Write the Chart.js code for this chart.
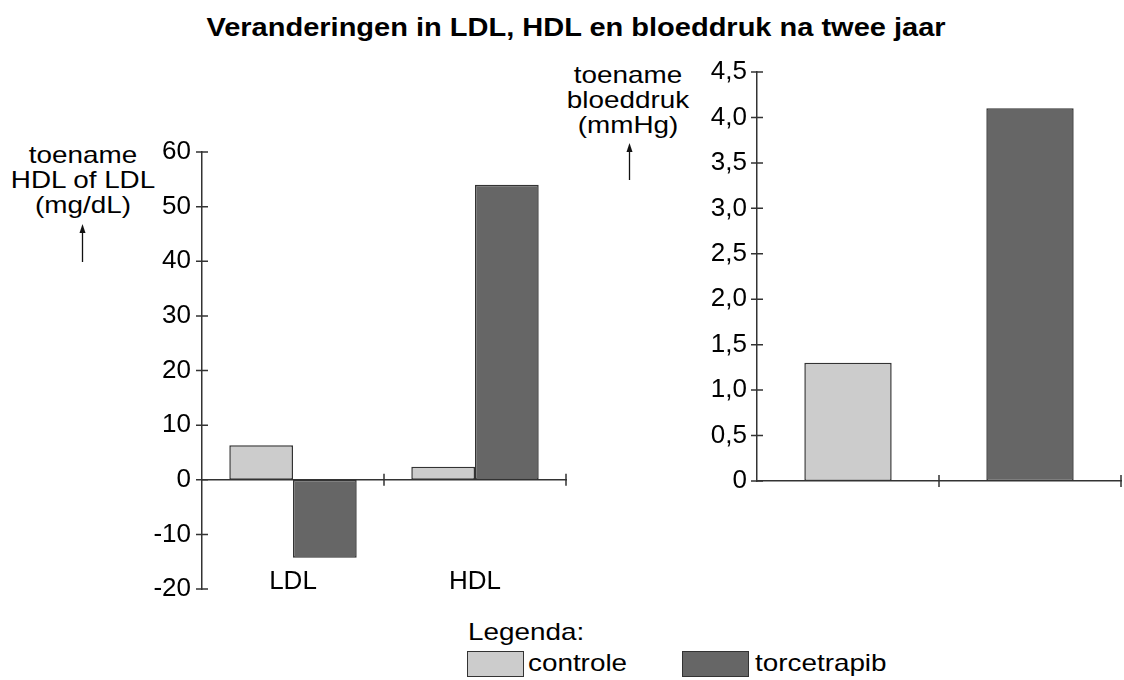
<!DOCTYPE html>
<html>
<head>
<meta charset="utf-8">
<script src="https://cdn.jsdelivr.net/npm/chart.js@4.4.1/dist/chart.umd.min.js"></script>
<style>
  body { margin: 0; background: #fff; }
  #page { position: relative; width: 1124px; height: 680px; overflow: hidden;
          font-family: "Liberation Sans", Arial, sans-serif; color: #000; }
  canvas { position: absolute; }
  .txt { position: absolute; white-space: nowrap; text-align: center;
         transform: translate(-50%, -50%) scaleX(1.16); }
  .title { font-weight: bold; font-size: 25px; }
  .axt { font-size: 24px; line-height: 25px; transform: translate(-50%, 0) scaleX(1.16); }
  .leg { font-size: 24px; transform: translate(0, -50%) scaleX(1.16); transform-origin: left center; text-align: left; }
  .sw { position: absolute; border: 1.5px solid #333; box-sizing: border-box; }
  svg { position: absolute; left: 0; top: 0; }
</style>
</head>
<body>
<div id="page">
  <div class="txt title" style="left:576px; top:27px;">Veranderingen in LDL, HDL en bloeddruk na twee jaar</div>

  <div class="txt axt" style="left:83px; top:142px;">toename<br>HDL of LDL<br>(mg/dL)</div>
  <div class="txt axt" style="left:628px; top:62px;">toename<br>bloeddruk<br>(mmHg)</div>

  <svg width="1124" height="680">
    <g stroke="#111" stroke-width="1.3" fill="#111">
      <line x1="82.5" y1="262" x2="82.5" y2="230"/>
      <polygon points="82.5,224 79.5,233 85.5,233" stroke="none"/>
      <line x1="629.5" y1="180" x2="629.5" y2="149"/>
      <polygon points="629.5,143 626.5,152 632.5,152" stroke="none"/>
    </g>
  </svg>

  <canvas id="lipid" width="580" height="480" style="left:0; top:130px;"></canvas>
  <canvas id="bp" width="484" height="450" style="left:640px; top:50px;"></canvas>

  <div class="txt leg" style="left:468px; top:632px;">Legenda:</div>
  <div class="sw" id="sw-controle" style="left:467px; top:651px; width:57px; height:26px;"></div>
  <div class="txt leg" style="left:528px; top:663px;">controle</div>
  <div class="sw" id="sw-torce" style="left:682px; top:651px; width:67px; height:26px;"></div>
  <div class="txt leg" style="left:755px; top:663px;">torcetrapib</div>
</div>

<script>
// --- data ---
const lipidCategories = ['LDL', 'HDL'];
const controleLipid = [6.3, 2.4];
const torcetrapibLipid = [-14.3, 54];
const lipidScale = { min: -20, max: 60, step: 10 };

const bpCategories = ['controle', 'torcetrapib'];
const bpValues = [1.3, 4.1];
const bpScale = { min: 0, max: 4.5, step: 0.5 };

const colorControle = '#cccccc';
const colorTorcetrapib = '#666666';
const lineColor = '#333333';
const fontFamily = '"Liberation Sans", Arial, sans-serif';

document.getElementById('sw-controle').style.background = colorControle;
document.getElementById('sw-torce').style.background = colorTorcetrapib;

// ticks that cross the axis lines, plus category names near the bottom
const axisMarks = {
  id: 'axisMarks',
  afterDatasetsDraw(chart, args, opts) {
    const { ctx, chartArea, scales: { x, y } } = chart;
    ctx.save();
    ctx.strokeStyle = lineColor;
    ctx.lineWidth = 1.5;
    ctx.beginPath();
    y.ticks.forEach(t => {
      const py = y.getPixelForValue(t.value);
      ctx.moveTo(chartArea.left - 6, py);
      ctx.lineTo(chartArea.left + 6, py);
    });
    const zero = y.getPixelForValue(0);
    const n = x.ticks.length;
    const step = (x.right - x.left) / n;
    for (let i = 1; i <= n; i++) {
      const px = x.left + step * i;
      ctx.moveTo(px, zero - 6);
      ctx.lineTo(px, zero + 6);
    }
    ctx.stroke();

    if (opts.labels) {
      ctx.font = '26px ' + fontFamily;
      ctx.fillStyle = '#000';
      ctx.textAlign = 'center';
      ctx.textBaseline = 'middle';
      x.ticks.forEach((t, i) => {
        ctx.fillText(x.getLabelForValue(t.value), x.getPixelForValue(i), chartArea.bottom - 7);
      });
    }
    ctx.restore();
  }
};

function fmt(v) {
  if (v === 0) return '0';
  return Number.isInteger(v) && Math.abs(v) >= 10 ? String(v) : v.toFixed(1).replace('.', ',');
}

function yAxis(range, width, pad) {
  return {
    min: range.min,
    max: range.max,
    afterFit: s => { s.width = width; s.paddingTop = 0; s.paddingBottom = 0; },
    ticks: {
      stepSize: range.step,
      padding: pad,
      color: '#000',
      font: { family: fontFamily, size: 26 },
      callback: v => fmt(Math.round(v * 10) / 10)
    },
    grid: { display: false, drawTicks: false },
    border: { display: true, color: lineColor, width: 1.5 }
  };
}

function xAxis() {
  return {
    type: 'category',
    position: { y: 0 },
    offset: true,
    afterFit: s => { s.paddingLeft = 0; s.paddingRight = 0; },
    ticks: { display: false },
    grid: { display: false, drawTicks: false },
    border: { display: true, color: lineColor, width: 1.5 }
  };
}

const common = {
  responsive: false,
  devicePixelRatio: 1,
  animation: false,
  plugins: { legend: { display: false }, tooltip: { enabled: false } }
};

new Chart(document.getElementById('lipid'), {
  type: 'bar',
  data: {
    labels: lipidCategories,
    datasets: [
      { label: 'controle', data: controleLipid, backgroundColor: colorControle },
      { label: 'torcetrapib', data: torcetrapibLipid, backgroundColor: colorTorcetrapib }
    ]
  },
  options: {
    ...common,
    layout: { padding: { top: 22, right: 14, bottom: 21, left: 0 } },
    datasets: { bar: { categoryPercentage: 0.7, barPercentage: 1, borderColor: lineColor, borderWidth: 1.5, borderSkipped: false } },
    plugins: { ...common.plugins, axisMarks: { labels: true } },
    scales: { x: xAxis(), y: yAxis(lipidScale, 202, 11) }
  },
  plugins: [axisMarks]
});

new Chart(document.getElementById('bp'), {
  type: 'bar',
  data: {
    labels: bpCategories,
    datasets: [
      { label: 'bloeddruk', data: bpValues, backgroundColor: [colorControle, colorTorcetrapib] }
    ]
  },
  options: {
    ...common,
    layout: { padding: { top: 22, right: 3, bottom: 19, left: 0 } },
    datasets: { bar: { categoryPercentage: 0.48, barPercentage: 1, borderColor: lineColor, borderWidth: 1.5, borderSkipped: false } },
    plugins: { ...common.plugins, axisMarks: { labels: false } },
    scales: { x: xAxis(), y: yAxis(bpScale, 117, 10) }
  },
  plugins: [axisMarks]
});
</script>
</body>
</html>
